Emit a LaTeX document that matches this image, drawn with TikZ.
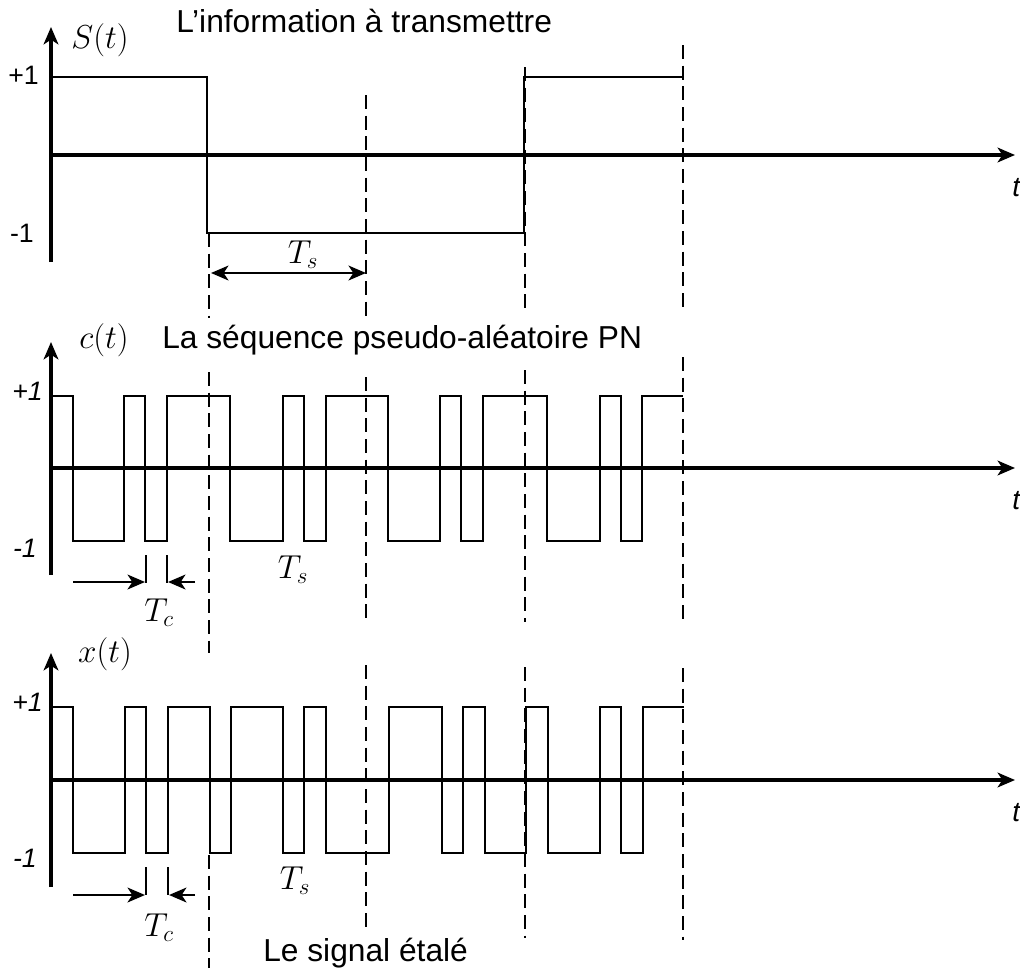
\documentclass[tikz,border=0pt]{standalone}
\usepackage{fontspec}
\setmainfont{Liberation Sans}
\usetikzlibrary{arrows.meta}

\begin{document}
\begin{tikzpicture}[x=0.75pt, y=-0.75pt,
  >={Stealth[length=13pt, width=11pt, inset=3.5pt]},
  axis/.style={line width=2.3pt, ->},
  wave/.style={line width=0.8pt},
  tsline/.style={line width=1.2pt, dash pattern=on 10.5pt off 5pt},
  dimarrow/.style={line width=2.2pt},
  title/.style={font=\fontsize{23.8}{28}\selectfont, anchor=base west, inner sep=0pt},
  lvl/.style={font=\fontsize{20}{24}\selectfont, anchor=east, inner sep=0pt},
  ilvl/.style={lvl, font=\fontsize{20}{24}\selectfont\itshape},
  tlbl/.style={font=\fontsize{21}{25}\selectfont\itshape, anchor=west, inner sep=0pt},
  mlbl/.style={font=\fontsize{25}{30}\selectfont, inner sep=0pt}]
\useasboundingbox (0,0) rectangle (1020,968);

% dashed bit boundaries
\foreach \xd/\ya/\yb in {209/233/318, 366/95/318, 525/67/313, 683/45/310,
                         209/372/653, 366/377/620, 525/370/622, 683/357/623,
                         209/855/968, 366/665/930, 525/667/938, 683/668/940}
  \draw[tsline] (\xd,\ya) -- (\xd,\yb);

% ---- S(t)
\draw[axis] (51,262) -- (51,27);
\draw[axis] (51,155) -- (1015,155);
\draw[wave] (51,77) -| (207,233) -| (524,77) -- (683,77);
\node[mlbl] (lblS) at (100,40) {$S(t)$};
\node[title] (titleS) at (176,32) {L’information à transmettre};
\node[lvl] (hiS) at (39,75) {+1};
\node[lvl] (loS) at (34,233) {-1};
\node[tlbl] (tS) at (1012,188) {t};
\coordinate (tsA) at (211,273);
\coordinate (tsB) at (366,273);
\draw[dimarrow, <->] (tsA) -- (tsB);
\node[mlbl] (lblTs1) at (303,255) {$T_s$};

% ---- c(t)
\draw[axis] (51,575) -- (51,342);
\draw[axis] (51,468) -- (1015,468);
\draw[wave] (51,396) -| (73,541) -| (124,396) -| (145,541) -| (167,396)
  -| (230,541) -| (283,396) -| (304,541) -| (326,396) -| (388,541)
  -| (440,396) -| (461,541) -| (483,396) -| (547,541) -| (600,396)
  -| (621,541) -| (642,396) -- (683,396);
\node[mlbl] (lblC) at (104,340) {$c(t)$};
\node[title] (titleC) at (162,348) {La séquence pseudo-aléatoire PN};
\node[ilvl] (hiC) at (43,391) {+1};
\node[ilvl] (loC) at (37,548) {-1};
\node[tlbl] (tC) at (1012,501) {t};
\draw[wave] (146,555) -- (146,583);
\draw[wave] (167,555) -- (167,583);
\draw[dimarrow, ->] (73,582) -- (145,582);
\draw[dimarrow, ->] (195,582) -- (168,582);
\node[mlbl] (lblTc2) at (159,613) {$T_c$};
\node[mlbl] (lblTs2) at (293,570) {$T_s$};

% ---- x(t)
\draw[axis] (51,887) -- (51,653);
\draw[axis] (51,780) -- (1015,780);
\draw[wave] (51,707) -| (73,853) -| (125,707) -| (146,853) -| (168,707)
  -| (210,853) -| (231,707) -| (283,853) -| (304,707) -| (326,853)
  -| (389,707) -| (442,853) -| (463,707) -| (485,853) -| (526,707)
  -| (548,853) -| (600,707) -| (621,853) -| (643,707) -- (684,707);
\node[mlbl] (lblX) at (105,654) {$x(t)$};
\node[title] (titleX) at (263,961) {Le signal étalé};
\node[ilvl] (hiX) at (43,702) {+1};
\node[ilvl] (loX) at (37,858) {-1};
\node[tlbl] (tX) at (1012,813) {t};
\draw[wave] (146,867) -- (146,895);
\draw[wave] (168,867) -- (168,895);
\draw[dimarrow, ->] (73,895) -- (145,895);
\draw[dimarrow, ->] (195,895) -- (169,895);
\node[mlbl] (lblTc3) at (159,928) {$T_c$};
\node[mlbl] (lblTs3) at (295,881) {$T_s$};

\end{tikzpicture}
\end{document}
